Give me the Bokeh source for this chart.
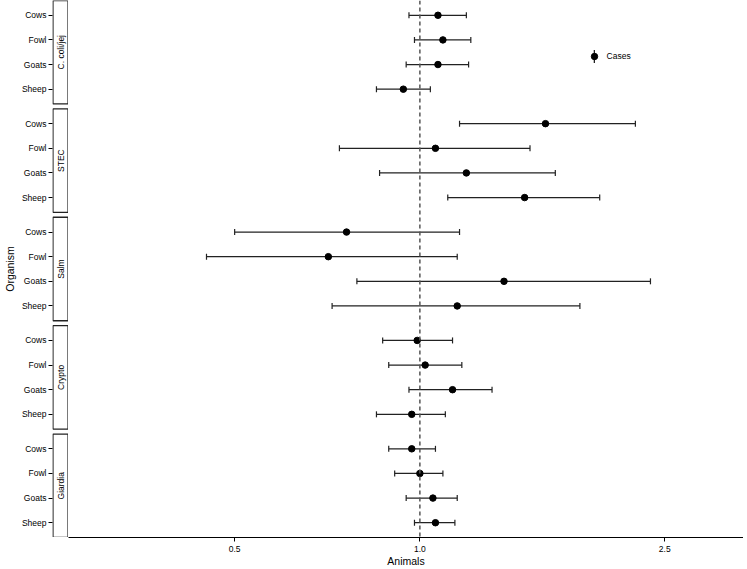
import math
from bokeh.plotting import figure
from bokeh.layouts import row
from bokeh.models import (Range1d, FixedTicker, PrintfTickFormatter, Span,
                          Legend, LegendItem, ColumnDataSource)
from bokeh.core.properties import value
from bokeh.embed import file_html
from bokeh.resources import INLINE

# ---------------- data ----------------
groups = ["C. coli/jej", "STEC", "Salm", "Crypto", "Giardia"]
animals = ["Cows", "Fowl", "Goats", "Sheep"]

est = {
    "C. coli/jej": [1.07, 1.09, 1.07, 0.94],
    "STEC":        [1.60, 1.06, 1.19, 1.48],
    "Salm":        [0.76, 0.71, 1.37, 1.15],
    "Crypto":      [0.99, 1.02, 1.13, 0.97],
    "Giardia":     [0.97, 1.00, 1.05, 1.06],
}
lower = {
    "C. coli/jej": [0.96, 0.98, 0.95, 0.85],
    "STEC":        [1.16, 0.74, 0.86, 1.11],
    "Salm":        [0.50, 0.45, 0.79, 0.72],
    "Crypto":      [0.87, 0.89, 0.96, 0.85],
    "Giardia":     [0.89, 0.91, 0.95, 0.98],
}
upper = {
    "C. coli/jej": [1.19, 1.21, 1.20, 1.04],
    "STEC":        [2.24, 1.51, 1.66, 1.96],
    "Salm":        [1.16, 1.15, 2.37, 1.82],
    "Crypto":      [1.13, 1.17, 1.31, 1.10],
    "Giardia":     [1.06, 1.09, 1.15, 1.14],
}
x_ticks = [0.5, 1.0, 2.5]
ref_value = 1.0
legend_label = "Cases"
x_title = "Animals"
y_title = "Organism"

# ---------------- layout (facet positions) ----------------
ROW = 10
PAD = 6
PANEL = PAD * 2 + ROW * (len(animals) - 1)   # 42
GAP = 2
PERIOD = PANEL + GAP
TOTAL = PERIOD * len(groups) - GAP

xs, lo, hi, ys, tick_map = [], [], [], [], {}
for k, g in enumerate(groups):
    for j, a in enumerate(animals):
        yy = k * PERIOD + PAD + ROW * j
        xs.append(est[g][j]); lo.append(lower[g][j]); hi.append(upper[g][j])
        ys.append(yy)
        tick_map[yy] = a

src = ColumnDataSource(dict(x=xs, lo=lo, hi=hi, y=ys))
cap_src = ColumnDataSource(dict(x=lo + hi, y=ys + ys))

FONT = "Liberation Sans"
FRAME_H = 537
y_range = Range1d(start=TOTAL, end=0)

# ---------------- main panel ----------------
W = 675
p = figure(width=W, frame_height=FRAME_H, x_axis_type="log",
           x_range=Range1d(0.2685, 3.357), y_range=y_range,
           y_axis_location=None, toolbar_location=None,
           output_backend="svg", min_border_left=0, min_border_right=0,
           min_border_top=0, min_border_bottom=0)
p.outline_line_color = None
p.xgrid.visible = False
p.ygrid.visible = False

p.add_layout(Span(location=ref_value, dimension="height", line_color="#555555",
                  line_width=1.5, line_dash="4 3"))

p.segment(x0="lo", y0="y", x1="hi", y1="y", source=src,
          line_color="#222222", line_width=1.2)
caps = p.rect(x="x", y="y", width=1.2, height=6, width_units="screen",
              height_units="screen", source=cap_src, fill_color="#222222",
              line_color=None)
pts = p.scatter(x="x", y="y", source=src, marker="circle", size=6.5,
                fill_color="black", line_color="black")

ax = p.xaxis[0]
ax.ticker = FixedTicker(ticks=x_ticks, minor_ticks=[])
ax.formatter = PrintfTickFormatter(format="%.1f")
ax.axis_label = x_title
ax.axis_label_text_font = FONT
ax.axis_label_text_font_size = "10.5px"
ax.axis_label_text_font_style = "normal"
ax.axis_label_text_color = "black"
ax.axis_label_standoff = 0
ax.major_label_text_font = FONT
ax.major_label_text_font_size = "8.5px"
ax.major_label_text_color = "black"
ax.major_label_standoff = 4
ax.major_tick_out = 4
ax.major_tick_in = 0
ax.minor_tick_out = 0
ax.minor_tick_in = 0
ax.axis_line_color = "black"
ax.major_tick_line_color = "black"

# legend: vertical bar key + dot key overlaid
kx = 0.7786 * W
ky = FRAME_H - 0.104 * FRAME_H
leg_line = Legend(items=[LegendItem(label=legend_label, renderers=[caps])],
                  location=(kx - 1, ky - 8), glyph_width=2, glyph_height=16,
                  label_height=16, label_standoff=12, padding=0, margin=0,
                  spacing=0, border_line_color=None, background_fill_alpha=0,
                  label_text_font=FONT, label_text_font_size="8.5px",
                  label_text_color="black")
leg_dot = Legend(items=[LegendItem(label=" ", renderers=[pts])],
                 location=(kx - 8, ky - 8), glyph_width=16, glyph_height=16,
                 label_height=16, label_standoff=0, padding=0, margin=0,
                 spacing=0, border_line_color=None, background_fill_alpha=0,
                 label_text_font_size="8px")
p.add_layout(leg_line)
p.add_layout(leg_dot)

# ---------------- strip + labels panel ----------------
s = figure(frame_width=16, frame_height=FRAME_H, x_range=Range1d(-0.03, 1.03),
           y_range=y_range, x_axis_location=None, toolbar_location=None,
           output_backend="svg", min_border_left=0, min_border_right=0,
           min_border_top=0, min_border_bottom=0)
s.outline_line_color = None
s.xgrid.visible = False
s.ygrid.visible = False

strip_top = [k * PERIOD for k in range(len(groups))]
strip_bot = [k * PERIOD + PANEL for k in range(len(groups))]
strip_mid = [k * PERIOD + PANEL / 2 for k in range(len(groups))]
s.quad(left=0, right=1, top=strip_top, bottom=strip_bot, fill_color="white",
       line_color="#222222", line_width=1.3)
s.text(x=[0.5] * len(groups), y=strip_mid, text=groups, angle=math.pi / 2,
       text_align="center", text_baseline="middle", text_font=value(FONT),
       text_font_size="8.5px", text_color="black")

ay = s.yaxis[0]
ay.ticker = FixedTicker(ticks=ys, minor_ticks=[])
ay.major_label_overrides = tick_map
ay.axis_label = y_title
ay.axis_label_text_font = FONT
ay.axis_label_text_font_size = "10.5px"
ay.axis_label_text_font_style = "normal"
ay.axis_label_text_color = "black"
ay.axis_label_standoff = 3
ay.major_label_text_font = FONT
ay.major_label_text_font_size = "8.5px"
ay.major_label_text_color = "black"
ay.major_label_standoff = 2
ay.major_tick_out = 4
ay.major_tick_in = 0
ay.minor_tick_out = 0
ay.axis_line_color = None
ay.major_tick_line_color = "black"

layout = row(s, p)
open("out.html", "w").write(file_html(layout, INLINE))
